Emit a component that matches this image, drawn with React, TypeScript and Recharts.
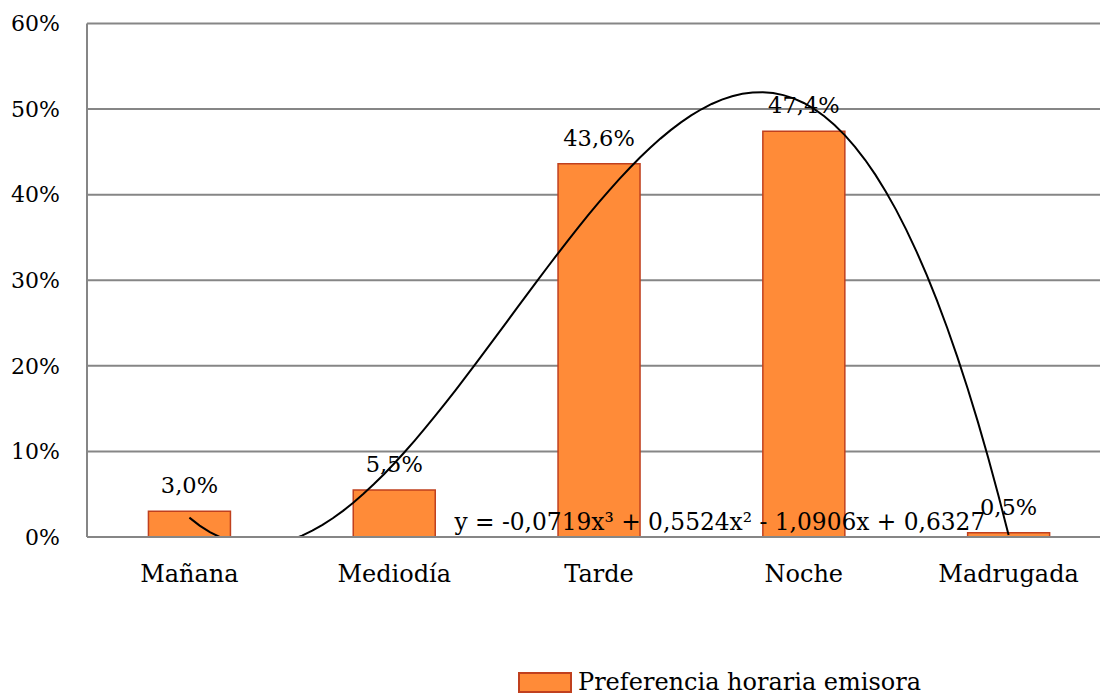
import React from "react";
import {
  ComposedChart,
  Bar,
  Line,
  XAxis,
  YAxis,
  CartesianGrid,
  LabelList,
  ReferenceDot,
} from "recharts";

const categories = ["Mañana", "Mediodía", "Tarde", "Noche", "Madrugada"];
const values = [0.03, 0.055, 0.436, 0.474, 0.005];
const yTicks = [0, 0.1, 0.2, 0.3, 0.4, 0.5, 0.6];
// trendline coefficients as printed in the chart: a3, a2, a1, a0
const trendCoefficients = [-0.0719, 0.5524, -1.0906, 0.6327];
const trendLabel = "y = -0,0719x³ + 0,5524x² - 1,0906x + 0,6327";
const seriesName = "Preferencia horaria emisora";

const barData = categories.map((c, i) => ({ name: c, value: values[i] }));

const trendData: { x: number; y: number }[] = [];
for (let k = 0; k <= 80; k++) {
  const x = 1 + k * 0.05;
  const [a3, a2, a1, a0] = trendCoefficients;
  trendData.push({ x, y: a3 * x * x * x + a2 * x * x + a1 * x + a0 });
}

const FONT = "'DejaVu Serif', serif";
const FILL = "#FF8B38";
const STROKE = "#C0401E";
const GRID = "#868686";

const pct = (v: number) => `${Math.round(v * 100)}%`;
const pct1 = (v: any) => `${(Number(v) * 100).toFixed(1).replace(".", ",")}%`;

export default function App() {
  return (
    <div
      style={{
        position: "absolute",
        left: 0,
        top: 0,
        width: 1100,
        height: 695,
        overflow: "hidden",
        background: "#fff",
      }}
    >
      <ComposedChart
        width={1120}
        height={695}
        data={barData}
        margin={{ top: 23.5, right: 9, left: 0, bottom: 0 }}
        barCategoryGap="30%"
      >
        <CartesianGrid vertical={false} stroke={GRID} strokeWidth={2} />
        <XAxis
          xAxisId="cat"
          dataKey="name"
          height={158}
          axisLine={{ stroke: GRID, strokeWidth: 2 }}
          tickLine={false}
          tickSize={0}
          tickMargin={28}
          tick={{ fontFamily: FONT, fontSize: 24, fill: "#000" }}
          interval={0}
        />
        <XAxis
          xAxisId="num"
          type="number"
          dataKey="x"
          domain={[0.5, 5.5]}
          allowDataOverflow
          hide
        />
        <YAxis
          width={87}
          domain={[0, 0.6]}
          ticks={yTicks}
          allowDataOverflow
          tickFormatter={pct}
          axisLine={{ stroke: GRID, strokeWidth: 2 }}
          tickLine={false}
          tickSize={0}
          tickMargin={27}
          tick={{ fontFamily: FONT, fontSize: 22, fill: "#000" }}
        />
        <Bar
          xAxisId="cat"
          dataKey="value"
          name={seriesName}
          fill={FILL}
          stroke={STROKE}
          strokeWidth={1.5}
          isAnimationActive={false}
        >
          <LabelList
            dataKey="value"
            position="top"
            offset={18}
            formatter={pct1}
            style={{ fontFamily: FONT, fontSize: 22.5, fill: "#000" }}
          />
        </Bar>
        <Line
          xAxisId="num"
          data={trendData}
          dataKey="y"
          type="linear"
          stroke="#000"
          strokeWidth={2}
          dot={false}
          activeDot={false}
          isAnimationActive={false}
          legendType="none"
        />
        <ReferenceDot
          xAxisId="num"
          x={3.59}
          y={0.0175}
          r={0}
          fill="none"
          stroke="none"
          ifOverflow="visible"
          label={{
            value: trendLabel,
            position: "center",
            fontFamily: FONT,
            fontSize: 23.3,
            fill: "#000",
          }}
        />
      </ComposedChart>
      <div
        style={{
          position: "absolute",
          left: 518,
          top: 670,
          height: 24,
          lineHeight: "22px",
          display: "flex",
          alignItems: "center",
          fontFamily: FONT,
          fontSize: 24,
          color: "#000",
          whiteSpace: "nowrap",
        }}
      >
        <span
          style={{
            display: "inline-block",
            width: 50,
            height: 17,
            background: FILL,
            border: `2px solid ${STROKE}`,
            marginRight: 6,
          }}
        />
        <span>{seriesName}</span>
      </div>
    </div>
  );
}
